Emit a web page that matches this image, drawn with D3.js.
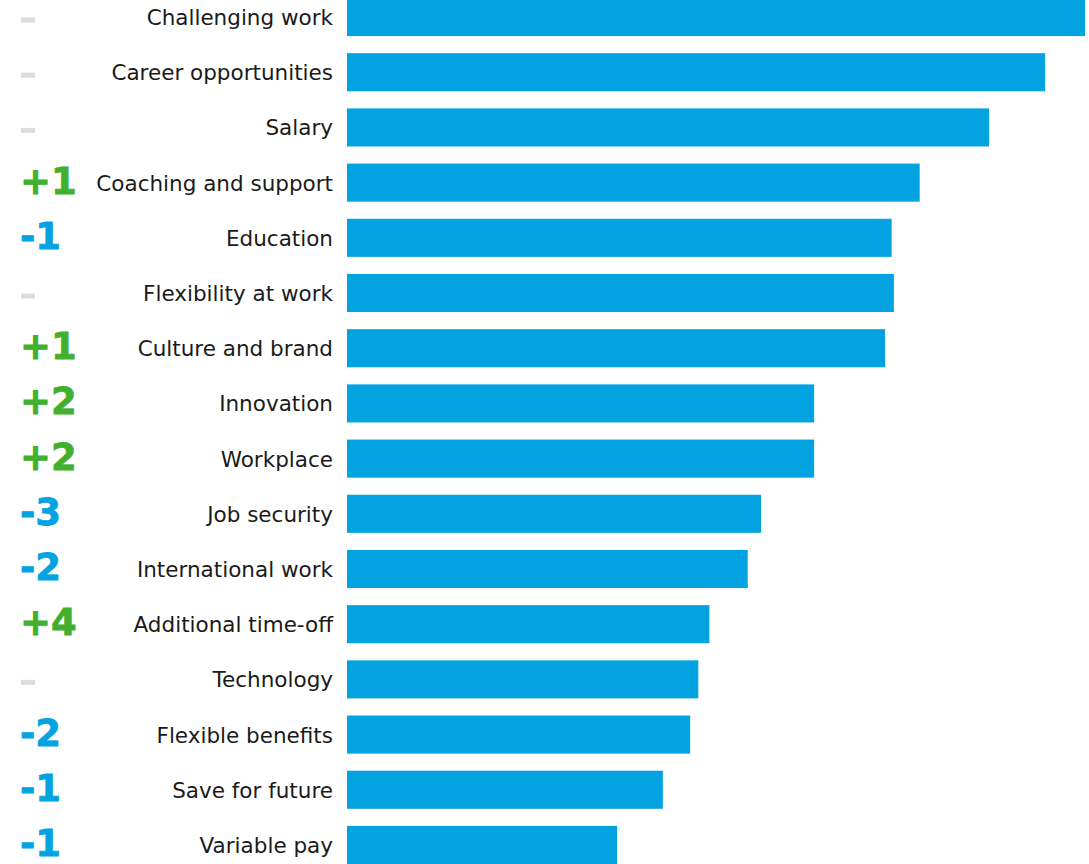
<!DOCTYPE html>
<html>
<head>
<meta charset="utf-8">
<script src="https://cdn.jsdelivr.net/npm/d3@7/dist/d3.min.js"></script>
<style>
  html, body { margin: 0; padding: 0; background: #ffffff; overflow: hidden; }
  svg { display: block; }
</style>
</head>
<body>
<svg id="chart" width="1089" height="864"></svg>
<script>
// Employer attractiveness drivers, ranked by relative importance (index, top = 100)
const drivers = [
  "Challenging work", "Career opportunities", "Salary", "Coaching and support",
  "Education", "Flexibility at work", "Culture and brand", "Innovation",
  "Workplace", "Job security", "International work", "Additional time-off",
  "Technology", "Flexible benefits", "Save for future", "Variable pay"
];
const importance = [100, 94.6, 87.0, 77.6, 73.8, 74.1, 72.9, 63.3, 63.3, 56.1, 54.3, 49.1, 47.6, 46.5, 42.8, 36.6];
// Change in rank versus the previous edition (0 = unchanged)
const rankChange = [0, 0, 0, 1, -1, 0, 1, 2, 2, -3, -2, 4, 0, -2, -1, -1];

const colors = { bar: "#03a3e1", up: "#41b02e", down: "#03a3e1", same: "#dddddd", text: "#1a1a1a" };

const rows = drivers.map((name, i) => ({ name, value: importance[i], change: rankChange[i] }));

const svg = d3.select("#chart");

const x = d3.scaleLinear().domain([0, 100]).range([347, 1085]);
const y = d3.scaleBand().domain(drivers).range([-2, 864]).paddingInner(0.31).paddingOuter(0);

// Bars
svg.append("g").selectAll("rect")
  .data(rows)
  .join("rect")
  .attr("x", x(0))
  .attr("y", d => y(d.name))
  .attr("width", d => x(d.value) - x(0))
  .attr("height", y.bandwidth())
  .attr("fill", colors.bar);

// Category labels
svg.append("g").selectAll("text")
  .data(rows)
  .join("text")
  .attr("x", 333)
  .attr("y", d => y(d.name) + y.bandwidth() / 2 + 8)
  .attr("text-anchor", "end")
  .attr("font-family", "'DejaVu Sans', Verdana, sans-serif")
  .attr("font-size", 21.5)
  .attr("fill", colors.text)
  .text(d => d.name);

// Rank change markers
const moved = rows.filter(d => d.change !== 0);
const steady = rows.filter(d => d.change === 0);

svg.append("g").selectAll("text")
  .data(moved)
  .join("text")
  .attr("x", 20)
  .attr("y", d => y(d.name) + y.bandwidth() / 2 + 11)
  .attr("font-family", "'DejaVu Sans', Verdana, sans-serif")
  .attr("font-weight", "bold")
  .attr("font-size", 37)
  .attr("fill", d => d.change > 0 ? colors.up : colors.down)
  .attr("stroke", d => d.change > 0 ? colors.up : colors.down)
  .attr("stroke-width", 0.8)
  .text(d => (d.change > 0 ? "+" : "-") + Math.abs(d.change));

svg.append("g").selectAll("rect")
  .data(steady)
  .join("rect")
  .attr("x", 21)
  .attr("y", d => y(d.name) + y.bandwidth() / 2 + 0.5)
  .attr("width", 14)
  .attr("height", 5)
  .attr("fill", colors.same);
</script>
</body>
</html>
